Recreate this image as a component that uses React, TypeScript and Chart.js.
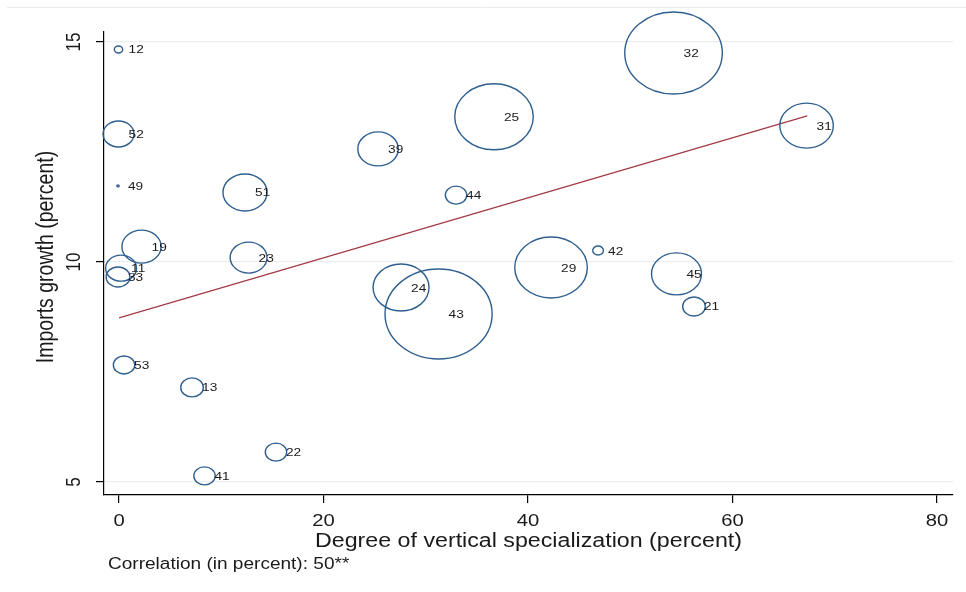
import React, { useEffect, useRef } from 'react';
import { Chart, registerables } from 'chart.js';

Chart.register(...registerables);

// ---- data ----
const countryLabels = ['12', '52', '49', '51', '19', '11', '33', '23', '53', '13', '22', '41', '39', '25', '44', '42', '29', '45', '21', '32', '31', '24', '43'];
const verticalSpecialization = [-0.05, -0.05, -0.1, 12.32, 2.2, 0.2, -0.1, 12.67, 0.49, 7.14, 15.35, 8.36, 25.33, 36.67, 32.96, 46.85, 42.25, 54.52, 56.23, 54.23, 67.24, 27.58, 31.25];
const importsGrowth = [14.83, 12.91, 11.73, 11.58, 10.35, 9.86, 9.66, 10.1, 7.66, 7.15, 5.68, 5.14, 12.57, 13.3, 11.52, 10.26, 9.875, 9.73, 8.99, 14.75, 13.1, 9.42, 8.82];
const bubbleWeight = [3.5, 13, 1, 18.5, 16.5, 13, 10, 15.5, 9, 9.5, 9, 9, 17, 33, 9, 4.5, 30.5, 21, 9.5, 41, 22.5, 23.5, 45];
const fitLineX = [0, 67.3];
const fitLineY = [8.73, 13.32];
const xTickValues = [0, 20, 40, 60, 80];
const yTickValues = [5, 10, 15];

const xTitle = 'Degree of vertical specialization (percent)';
const yTitle = 'Imports growth (percent)';
const footnote = 'Correlation (in percent): 50**';

const FONT = '"Liberation Sans", Arial, sans-serif';
const SX = 1.19; // horizontal stretch of the original picture

function stretchedText(ctx: any, text: string, x: number, y: number, size: number, align: string, rotated = false) {
  ctx.save();
  ctx.translate(x, y);
  ctx.scale(SX, 1);
  if (rotated) ctx.rotate(-Math.PI / 2);
  ctx.font = `${size}px ${FONT}`;
  ctx.textAlign = align;
  ctx.textBaseline = 'alphabetic';
  ctx.fillText(text, 0, 0);
  ctx.restore();
}

const decorPlugin = {
  id: 'decor',
  beforeDraw(chart: any) {
    const ctx = chart.ctx;
    ctx.save();
    ctx.strokeStyle = '#e6ecec';
    ctx.lineWidth = 1;
    ctx.beginPath();
    ctx.moveTo(7, 7.5);
    ctx.lineTo(chart.width, 7.5);
    ctx.stroke();
    ctx.restore();
  },
  afterDatasetsDraw(chart: any) {
    const ctx = chart.ctx;
    const meta = chart.getDatasetMeta(0);
    ctx.save();
    ctx.strokeStyle = '#2f5f8f';
    ctx.lineWidth = 1.4;
    meta.data.forEach((el: any, i: number) => {
      const r = bubbleWeight[i];
      ctx.beginPath();
      ctx.ellipse(el.x, el.y, Math.max(r * SX, 0.8), Math.max(r, 0.8), 0, 0, Math.PI * 2);
      ctx.stroke();
    });
    ctx.fillStyle = '#1a1a1a';
    meta.data.forEach((el: any, i: number) => {
      stretchedText(ctx, countryLabels[i], el.x + 10, el.y + 4, 11.5, 'left');
    });
    ctx.restore();
  },
  afterDraw(chart: any) {
    const ctx = chart.ctx;
    const area = chart.chartArea;
    const xScale = chart.scales.x;
    const yScale = chart.scales.y;
    ctx.save();
    ctx.fillStyle = '#1a1a1a';
    xTickValues.forEach((v) => {
      stretchedText(ctx, String(v), xScale.getPixelForValue(v), 526, 17, 'center');
    });
    yTickValues.forEach((v) => {
      stretchedText(ctx, String(v), 80, yScale.getPixelForValue(v), 17, 'center', true);
    });
    stretchedText(ctx, yTitle, 53, 257, 19.5, 'center', true);
    stretchedText(ctx, xTitle, (area.left + area.right) / 2, 547, 19.5, 'center');
    stretchedText(ctx, footnote, 108, 569, 16, 'left');
    ctx.restore();
  },
};

export default function App() {
  const canvasRef = useRef<HTMLCanvasElement | null>(null);

  useEffect(() => {
    if (!canvasRef.current) return;
    const bubbles = verticalSpecialization.map((x, i) => ({ x, y: importsGrowth[i], r: bubbleWeight[i] }));
    const fit = fitLineX.map((x, i) => ({ x, y: fitLineY[i] }));
    const chart = new Chart(canvasRef.current, {
      type: 'bubble',
      data: {
        datasets: [
          {
            type: 'bubble',
            data: bubbles,
            backgroundColor: 'rgba(0,0,0,0)',
            borderColor: 'rgba(0,0,0,0)',
            borderWidth: 0,
          } as any,
          {
            type: 'line',
            data: fit,
            borderColor: '#a33a46',
            borderWidth: 1.3,
            pointRadius: 0,
            fill: false,
          } as any,
        ],
      },
      options: {
        responsive: false,
        animation: false,
        events: [],
        layout: { autoPadding: false, padding: { top: 32, right: 13, left: 0, bottom: 0 } },
        plugins: { legend: { display: false }, tooltip: { enabled: false } },
        scales: {
          x: {
            type: 'linear',
            min: -1.47,
            max: 81.56,
            afterFit: (s: any) => { s.height = 97; s.paddingLeft = 0; s.paddingRight = 0; },
            afterBuildTicks: (s: any) => { s.ticks = xTickValues.map((v) => ({ value: v })); },
            grid: { drawOnChartArea: false, drawTicks: true, tickLength: 8, tickColor: '#000', color: '#000', lineWidth: 1.2 },
            border: { display: true, color: '#000', width: 1.2 },
            ticks: { display: false },
          },
          y: {
            type: 'linear',
            min: 4.705,
            max: 15.227,
            afterFit: (s: any) => { s.width = 104; s.paddingTop = 0; s.paddingBottom = 0; },
            afterBuildTicks: (s: any) => { s.ticks = yTickValues.map((v) => ({ value: v })); },
            grid: { drawOnChartArea: true, drawTicks: true, tickLength: 8, tickColor: '#000', color: '#e9efef', lineWidth: 1.2 },
            border: { display: true, color: '#000', width: 1.2 },
            ticks: { display: false },
          },
        },
      },
      plugins: [decorPlugin],
    });
    return () => chart.destroy();
  }, []);

  return (
    <div style={{ position: 'fixed', left: 0, top: 0, width: 966, height: 592, background: '#fff' }}>
      <canvas ref={canvasRef} width={966} height={592} style={{ display: 'block' }} />
    </div>
  );
}
